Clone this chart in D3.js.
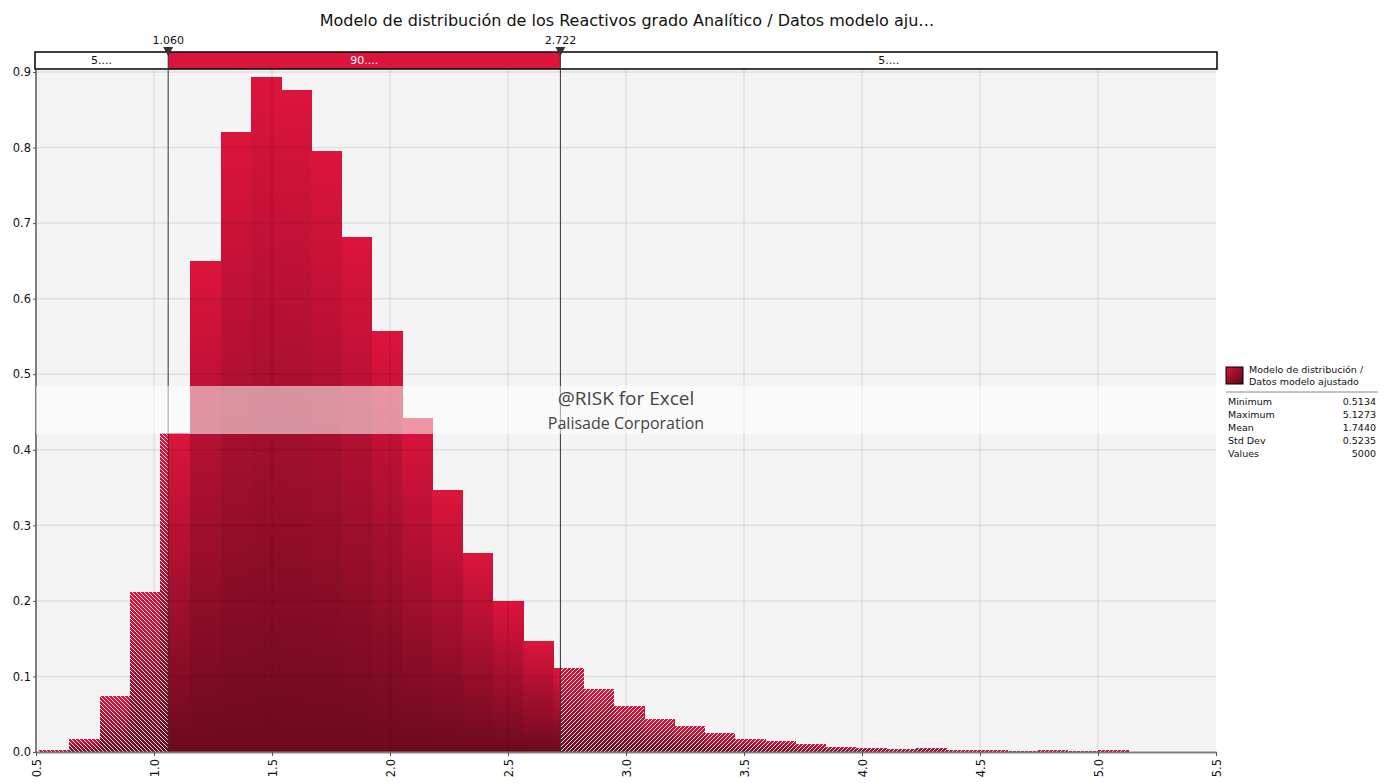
<!DOCTYPE html>
<html>
<head>
<meta charset="utf-8">
<script src="https://cdn.jsdelivr.net/npm/d3@7"></script>
<style>
  html, body { margin: 0; padding: 0; background: #ffffff; }
  svg { display: block; font-family: "DejaVu Sans", Verdana, sans-serif; }
</style>
</head>
<body>
<svg id="chart" width="1390" height="783"></svg>
<script>
// Histogram of the fitted model: 36 equal-width bins between the sample min and max
const binStart = 0.5134;
const binWidth = 0.12816;
const densities = [
  0.0026, 0.0172, 0.0740, 0.2120, 0.4220, 0.6500, 0.8210, 0.8940, 0.8760,
  0.7960, 0.6810, 0.5570, 0.4420, 0.3470, 0.2630, 0.2000, 0.1470, 0.1116,
  0.0834, 0.0609, 0.0437, 0.0344, 0.0251, 0.0172, 0.0146, 0.0106, 0.0066,
  0.0053, 0.0040, 0.0053, 0.0026, 0.0026, 0.0013, 0.0026, 0.0013, 0.0026
];

// 90% interval delimiters
const lowerMark = 1.060;
const upperMark = 2.722;
const bandLabels = ["5....", "90....", "5...."];

const xTicks = [0.5, 1.0, 1.5, 2.0, 2.5, 3.0, 3.5, 4.0, 4.5, 5.0, 5.5];
const yTicks = [0.0, 0.1, 0.2, 0.3, 0.4, 0.5, 0.6, 0.7, 0.8, 0.9];

const titleText = "Modelo de distribución de los Reactivos grado Analítico / Datos modelo aju…";
const legendLines = ["Modelo de distribución /", "Datos modelo ajustado"];
const statNames = ["Minimum", "Maximum", "Mean", "Std Dev", "Values"];
const statValues = ["0.5134", "5.1273", "1.7440", "0.5235", "5000"];

const svg = d3.select("#chart");
const plot = { left: 36, right: 1216, top: 70, bottom: 752 };

const x = d3.scaleLinear().domain([0.5, 5.5]).range([plot.left, plot.right]);
const y = d3.scaleLinear().domain([0, 0.9]).range([plot.bottom, 72]);

const defs = svg.append("defs");

// vertical gradient used by every bar (bright crimson top, dark wine bottom)
const grad = defs.append("linearGradient")
  .attr("id", "barGrad").attr("x1", 0).attr("y1", 0).attr("x2", 0).attr("y2", 1);
grad.append("stop").attr("offset", "0%").attr("stop-color", "#dc143c");
grad.append("stop").attr("offset", "100%").attr("stop-color", "#6c0a1e");

// legend swatch gradient
const lgrad = defs.append("linearGradient")
  .attr("id", "legGrad").attr("x1", 0).attr("y1", 0).attr("x2", 1).attr("y2", 1);
lgrad.append("stop").attr("offset", "0%").attr("stop-color", "#d0143a");
lgrad.append("stop").attr("offset", "100%").attr("stop-color", "#5e0818");

// diagonal hatching for the tails
function hatch(id, dir) {
  const p = defs.append("pattern")
    .attr("id", id).attr("patternUnits", "userSpaceOnUse")
    .attr("width", 4).attr("height", 4);
  const d = dir === "back"
    ? "M-1,-1 L5,5 M-1,3 L1,5 M3,-1 L5,1"
    : "M-1,5 L5,-1 M-1,1 L1,-1 M3,5 L5,3";
  p.append("path").attr("d", d)
    .attr("stroke", "#ffffff").attr("stroke-width", 1).attr("stroke-opacity", 0.9);
}
hatch("hatchLeft", "back");
hatch("hatchRight", "fwd");

// plot background
svg.append("rect")
  .attr("x", plot.left).attr("y", plot.top)
  .attr("width", plot.right - plot.left).attr("height", plot.bottom - plot.top)
  .attr("fill", "#f4f4f4");

// split bins at the interval delimiters
const segments = [];
densities.forEach((d, i) => {
  const a = binStart + i * binWidth;
  const b = a + binWidth;
  const cuts = [a];
  [lowerMark, upperMark].forEach(m => { if (m > a && m < b) cuts.push(m); });
  cuts.push(b);
  for (let k = 0; k < cuts.length - 1; k++) {
    const s = cuts[k], e = cuts[k + 1];
    const mid = (s + e) / 2;
    const side = mid < lowerMark ? "left" : (mid > upperMark ? "right" : "mid");
    segments.push({ x0: s, x1: e, v: d, side });
  }
});

const barG = svg.append("g").attr("shape-rendering", "crispEdges");
barG.selectAll("rect.bar")
  .data(segments)
  .join("rect")
  .attr("class", "bar")
  .attr("x", d => x(d.x0))
  .attr("y", d => y(d.v))
  .attr("width", d => x(d.x1) - x(d.x0) + 0.6)
  .attr("height", d => y(0) - y(d.v))
  .attr("fill", "url(#barGrad)");

barG.selectAll("rect.hatch")
  .data(segments.filter(d => d.side !== "mid"))
  .join("rect")
  .attr("class", "hatch")
  .attr("x", d => x(d.x0))
  .attr("y", d => y(d.v))
  .attr("width", d => x(d.x1) - x(d.x0))
  .attr("height", d => y(0) - y(d.v))
  .attr("fill", d => d.side === "left" ? "url(#hatchLeft)" : "url(#hatchRight)");

// grid lines drawn over the bars
const grid = svg.append("g");
grid.selectAll("line.gx")
  .data(xTicks.slice(1, -1))
  .join("line")
  .attr("x1", d => x(d)).attr("x2", d => x(d))
  .attr("y1", plot.top).attr("y2", plot.bottom)
  .attr("stroke", "#000").attr("stroke-opacity", 0.08).attr("stroke-width", 1.5);
grid.selectAll("line.gy")
  .data(yTicks.slice(1))
  .join("line")
  .attr("x1", plot.left).attr("x2", plot.right)
  .attr("y1", d => y(d)).attr("y2", d => y(d))
  .attr("stroke", "#000").attr("stroke-opacity", 0.08).attr("stroke-width", 1.5);

// axes
const xAxis = svg.append("g")
  .attr("transform", `translate(0,${plot.bottom})`)
  .call(d3.axisBottom(x).tickValues(xTicks).tickFormat(d3.format(".1f")).tickSize(4).tickSizeOuter(0));
xAxis.select(".domain").attr("stroke", "#808080").attr("stroke-width", 2);
xAxis.selectAll(".tick line").attr("stroke", "#555");
xAxis.selectAll(".tick text")
  .attr("transform", "rotate(-90)")
  .attr("x", -7).attr("y", 0).attr("dy", "0.35em")
  .attr("text-anchor", "end")
  .attr("font-size", 11.5).attr("fill", "#111")
  .attr("font-family", "DejaVu Sans, sans-serif");

const yAxis = svg.append("g")
  .attr("transform", `translate(${plot.left},0)`)
  .call(d3.axisLeft(y).tickValues(yTicks).tickFormat(d3.format(".1f")).tickSize(3).tickSizeOuter(0));
yAxis.select(".domain").attr("stroke", "#808080").attr("stroke-width", 2)
  .attr("d", `M0,${plot.top}V${plot.bottom}`);
yAxis.selectAll(".tick line").attr("stroke", "#555");
yAxis.selectAll(".tick text")
  .attr("x", -5)
  .attr("font-size", 11.5).attr("fill", "#111")
  .attr("font-family", "DejaVu Sans, sans-serif");

// interval band above the plot
const band = { top: 52, bottom: 69, left: 35, right: 1217 };
svg.append("rect")
  .attr("x", band.left).attr("y", band.top)
  .attr("width", band.right - band.left).attr("height", band.bottom - band.top)
  .attr("fill", "#ffffff");
svg.append("rect")
  .attr("x", x(lowerMark)).attr("y", band.top)
  .attr("width", x(upperMark) - x(lowerMark)).attr("height", band.bottom - band.top)
  .attr("fill", "#dc143c");
svg.append("rect")
  .attr("x", band.left).attr("y", band.top)
  .attr("width", band.right - band.left).attr("height", band.bottom - band.top)
  .attr("fill", "none").attr("stroke", "#000").attr("stroke-width", 1.5);

const bandCenters = [
  (band.left + x(lowerMark)) / 2,
  (x(lowerMark) + x(upperMark)) / 2,
  (x(upperMark) + band.right) / 2
];
svg.selectAll("text.bandLabel")
  .data(bandLabels)
  .join("text")
  .attr("class", "bandLabel")
  .attr("x", (d, i) => bandCenters[i])
  .attr("y", 64)
  .attr("text-anchor", "middle")
  .attr("font-size", 11)
  .attr("fill", (d, i) => i === 1 ? "#ffffff" : "#111")
  .text(d => d);

// delimiter lines and markers
const marks = [lowerMark, upperMark];
svg.selectAll("line.mark")
  .data(marks)
  .join("line")
  .attr("x1", d => x(d)).attr("x2", d => x(d))
  .attr("y1", band.top).attr("y2", plot.bottom)
  .attr("stroke", "#333").attr("stroke-width", 1);
svg.selectAll("path.tri")
  .data(marks)
  .join("path")
  .attr("d", d => `M${x(d) - 5},47 L${x(d) + 5},47 L${x(d)},56 Z`)
  .attr("fill", "#333");
svg.selectAll("text.markLabel")
  .data(marks)
  .join("text")
  .attr("x", d => x(d)).attr("y", 44)
  .attr("text-anchor", "middle")
  .attr("font-size", 11).attr("fill", "#111")
  .text(d => d3.format(".3f")(d));

// title
svg.append("text")
  .attr("x", 627).attr("y", 26)
  .attr("text-anchor", "middle")
  .attr("font-size", 16).attr("fill", "#111")
  .text(titleText);

// watermark band
svg.append("rect")
  .attr("x", plot.left).attr("y", 386)
  .attr("width", plot.right - plot.left).attr("height", 48)
  .attr("fill", "#ffffff").attr("fill-opacity", 0.55);
svg.append("text")
  .attr("x", 626).attr("y", 405)
  .attr("text-anchor", "middle")
  .attr("font-size", 19).attr("fill", "#444")
  .attr("font-family", "Open Sans, sans-serif")
  .text("@RISK for Excel");
svg.append("text")
  .attr("x", 626).attr("y", 429)
  .attr("text-anchor", "middle")
  .attr("font-size", 16).attr("fill", "#444")
  .attr("font-family", "Open Sans, sans-serif")
  .text("Palisade Corporation");

// legend and statistics
const leg = svg.append("g");
leg.append("rect")
  .attr("x", 1226).attr("y", 367).attr("width", 17).attr("height", 17)
  .attr("fill", "url(#legGrad)").attr("stroke", "#000").attr("stroke-width", 1);
leg.selectAll("text.legLine")
  .data(legendLines)
  .join("text")
  .attr("x", 1249).attr("y", (d, i) => 373 + i * 12)
  .attr("font-size", 9.5).attr("fill", "#111")
  .text(d => d);
leg.append("line")
  .attr("x1", 1226).attr("x2", 1378).attr("y1", 392).attr("y2", 392)
  .attr("stroke", "#888").attr("stroke-width", 1);
leg.selectAll("text.statName")
  .data(statNames)
  .join("text")
  .attr("x", 1228).attr("y", (d, i) => 405 + i * 13)
  .attr("font-size", 9.5).attr("fill", "#111")
  .text(d => d);
leg.selectAll("text.statVal")
  .data(statValues)
  .join("text")
  .attr("x", 1376).attr("y", (d, i) => 405 + i * 13)
  .attr("text-anchor", "end")
  .attr("font-size", 9.5).attr("fill", "#111")
  .text(d => d);
</script>
</body>
</html>
